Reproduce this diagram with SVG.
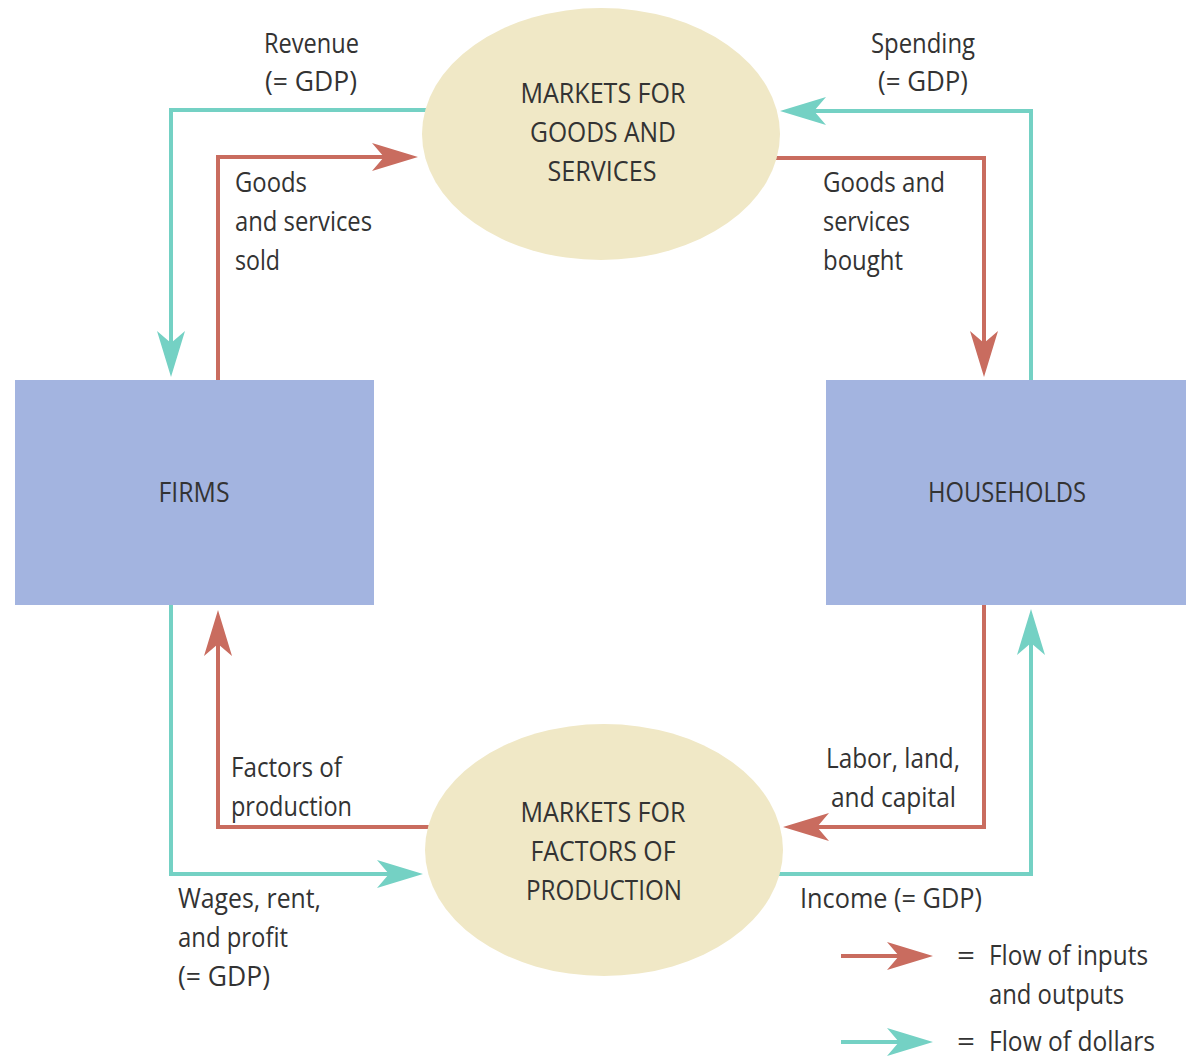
<svg xmlns="http://www.w3.org/2000/svg" width="1186" height="1057" viewBox="0 0 1186 1057">
<style>
text{font-family:"Open Sans","Noto Sans","Liberation Sans",sans-serif;font-size:27px;fill:#333;lengthAdjust:spacingAndGlyphs}
.c{text-anchor:middle}
.teal{fill:none;stroke:#74d1c4;stroke-width:4;stroke-linejoin:miter}
.red{fill:none;stroke:#c96c5f;stroke-width:4;stroke-linejoin:miter}
.ell{fill:#f0e8c6}
.box{fill:#a3b4e0}
</style>
<defs>
<marker id="at" markerUnits="userSpaceOnUse" markerWidth="50" markerHeight="32" refX="31" refY="16" orient="auto" overflow="visible">
<path d="M0,2 L46,16 L0,30 L12,16 Z" fill="#74d1c4"/>
</marker>
<marker id="ar" markerUnits="userSpaceOnUse" markerWidth="50" markerHeight="32" refX="31" refY="16" orient="auto" overflow="visible">
<path d="M0,2 L46,16 L0,30 L12,16 Z" fill="#c96c5f"/>
</marker>
</defs>
<rect width="1186" height="1057" fill="#fff"/>
<g id="connectors">
<path class="teal" d="M428,110 H171 V362" marker-end="url(#at)"/>
<path class="red" d="M218,380 V157 H403" marker-end="url(#ar)"/>
<path class="teal" d="M1031,380 V111 H795" marker-end="url(#at)"/>
<path class="red" d="M776,158 H984 V362" marker-end="url(#ar)"/>
<path class="red" d="M430,827 H218 V625" marker-end="url(#ar)"/>
<path class="teal" d="M171,605 V874 H408" marker-end="url(#at)"/>
<path class="red" d="M984,605 V827 H798" marker-end="url(#ar)"/>
<path class="teal" d="M778,874 H1031 V624" marker-end="url(#at)"/>
<path class="red" d="M841,956 H918" marker-end="url(#ar)"/>
<path class="teal" d="M841,1042 H918" marker-end="url(#at)"/>
</g>
<g id="goods-market">
<ellipse class="ell" cx="601" cy="134" rx="179" ry="126"/>
<text class="c" x="603" y="103" textLength="165" lengthAdjust="spacingAndGlyphs">MARKETS FOR</text>
<text class="c" x="603" y="142" textLength="146" lengthAdjust="spacingAndGlyphs">GOODS AND</text>
<text class="c" x="602" y="181" textLength="109" lengthAdjust="spacingAndGlyphs">SERVICES</text>
</g>
<g id="factor-market">
<ellipse class="ell" cx="604" cy="850" rx="179" ry="126"/>
<text class="c" x="603" y="822" textLength="165" lengthAdjust="spacingAndGlyphs">MARKETS FOR</text>
<text class="c" x="603" y="861" textLength="145" lengthAdjust="spacingAndGlyphs">FACTORS OF</text>
<text class="c" x="604" y="900" textLength="156" lengthAdjust="spacingAndGlyphs">PRODUCTION</text>
</g>
<g id="firms">
<rect class="box" x="15" y="380" width="359" height="225"/>
<text class="c" x="194" y="502" textLength="71" lengthAdjust="spacingAndGlyphs">FIRMS</text>
</g>
<g id="households">
<rect class="box" x="826" y="380" width="360" height="225"/>
<text class="c" x="1007" y="502" textLength="158" lengthAdjust="spacingAndGlyphs">HOUSEHOLDS</text>
</g>
<g id="labels">
<text x="264" y="53" textLength="95" lengthAdjust="spacingAndGlyphs">Revenue</text>
<text x="265" y="91" textLength="92" lengthAdjust="spacingAndGlyphs">(= GDP)</text>
<text x="871" y="53" textLength="104" lengthAdjust="spacingAndGlyphs">Spending</text>
<text x="878" y="91" textLength="90" lengthAdjust="spacingAndGlyphs">(= GDP)</text>
<text x="235" y="192" textLength="72" lengthAdjust="spacingAndGlyphs">Goods</text>
<text x="235" y="231" textLength="137" lengthAdjust="spacingAndGlyphs">and services</text>
<text x="235" y="270" textLength="45" lengthAdjust="spacingAndGlyphs">sold</text>
<text x="823" y="192" textLength="122" lengthAdjust="spacingAndGlyphs">Goods and</text>
<text x="823" y="231" textLength="87" lengthAdjust="spacingAndGlyphs">services</text>
<text x="823" y="270" textLength="80" lengthAdjust="spacingAndGlyphs">bought</text>
<text x="231" y="777" textLength="111" lengthAdjust="spacingAndGlyphs">Factors of</text>
<text x="231" y="816" textLength="121" lengthAdjust="spacingAndGlyphs">production</text>
<text x="178" y="908" textLength="143" lengthAdjust="spacingAndGlyphs">Wages, rent,</text>
<text x="178" y="947" textLength="110" lengthAdjust="spacingAndGlyphs">and profit</text>
<text x="178" y="986" textLength="92" lengthAdjust="spacingAndGlyphs">(= GDP)</text>
<text x="826" y="768" textLength="134" lengthAdjust="spacingAndGlyphs">Labor, land,</text>
<text x="831" y="807" textLength="125" lengthAdjust="spacingAndGlyphs">and capital</text>
<text x="800" y="908" textLength="182" lengthAdjust="spacingAndGlyphs">Income (= GDP)</text>
</g>
<g id="legend">
<text x="957" y="965" textLength="18" lengthAdjust="spacingAndGlyphs">=</text>
<text x="989" y="965" textLength="159" lengthAdjust="spacingAndGlyphs">Flow of inputs</text>
<text x="989" y="1004" textLength="135" lengthAdjust="spacingAndGlyphs">and outputs</text>
<text x="957" y="1051" textLength="18" lengthAdjust="spacingAndGlyphs">=</text>
<text x="989" y="1051" textLength="166" lengthAdjust="spacingAndGlyphs">Flow of dollars</text>
</g>
</svg>
